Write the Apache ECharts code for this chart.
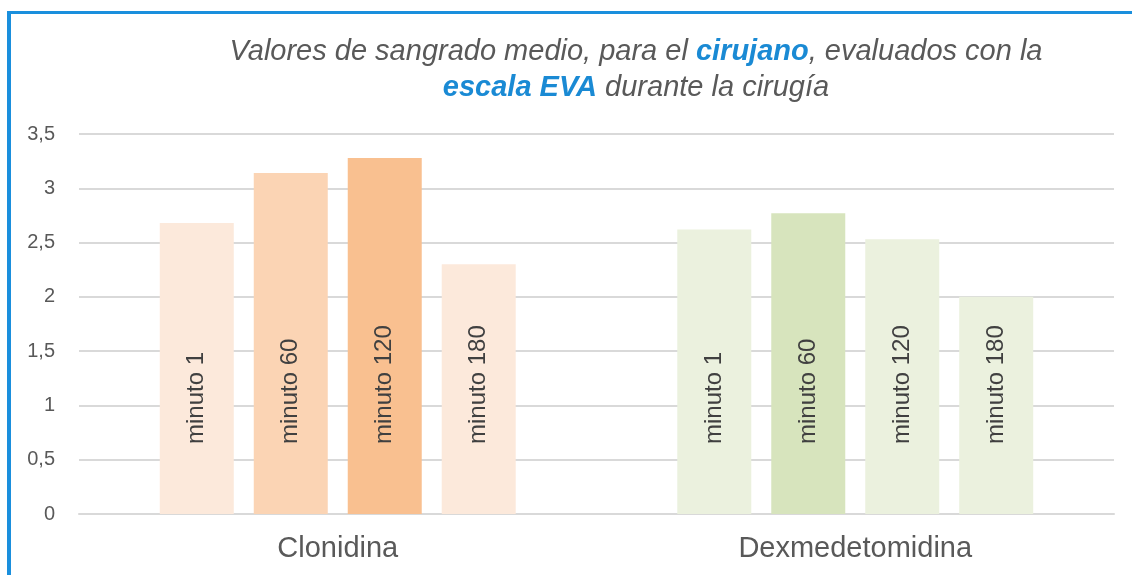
<!DOCTYPE html>
<html>
<head>
<meta charset="utf-8">
<script src="https://cdn.jsdelivr.net/npm/echarts@6/dist/echarts.min.js"></script>
<style>
  html, body { margin: 0; padding: 0; background: #fff; }
  #chart { width: 1132px; height: 575px; }
</style>
</head>
<body>
<div id="chart"></div>
<script>
// data
const categories = ['Clonidina', 'Dexmedetomidina'];
const seriesNames = ['minuto 1', 'minuto 60', 'minuto 120', 'minuto 180'];
const minuto1 = [2.68, 2.62];
const minuto60 = [3.14, 2.77];
const minuto120 = [3.28, 2.53];
const minuto180 = [2.30, 2.00];
const yTicks = [0, 0.5, 1, 1.5, 2, 2.5, 3, 3.5];

// colours per series, one per category
const barColors = [
    ['#fce9db', '#ebf1de'],
    ['#fbd4b4', '#d7e4bd'],
    ['#f9c090', '#ebf1de'],
    ['#fce9db', '#ebf1de']
];
const font = '"Liberation Sans", Arial, sans-serif';

let myChart = echarts.init(document.getElementById('chart'));

let values = [minuto1, minuto60, minuto120, minuto180];
let series = seriesNames.map((name, i) => ({
    type: 'bar',
    name: name,
    barWidth: 74,
    barGap: '27%',
    data: values[i].map((v, j) => ({ value: v, itemStyle: { color: barColors[i][j] } })),
    label: {
        show: true,
        formatter: '{a}',
        position: 'insideBottom',
        distance: 70,
        rotate: 90,
        align: 'left',
        verticalAlign: 'middle',
        fontFamily: font,
        fontSize: 24,
        color: '#404040'
    }
}));

let option = {
    animation: false,
    title: {
        left: 631,
        top: 29,
        textAlign: 'center',
        text: 'Valores de sangrado medio, para el {b|cirujano}, evaluados con la\n{b|escala EVA} durante la cirugía',
        textStyle: {
            fontFamily: font,
            fontSize: 29,
            fontStyle: 'italic',
            fontWeight: 'normal',
            color: '#595959',
            lineHeight: 36,
            rich: {
                b: {
                    fontFamily: font,
                    fontSize: 29,
                    fontStyle: 'italic',
                    fontWeight: 'bold',
                    color: '#1a8ad4',
                    lineHeight: 36
                }
            }
        }
    },
    grid: { left: 79, right: 18, top: 134, bottom: 61, containLabel: false },
    xAxis: {
        type: 'category',
        data: categories,
        axisTick: { show: false },
        axisLine: { lineStyle: { color: '#d9d9d9', width: 2 } },
        axisLabel: { fontFamily: font, fontSize: 29, color: '#595959', margin: 20 }
    },
    yAxis: {
        type: 'value',
        min: yTicks[0],
        max: yTicks[yTicks.length - 1],
        interval: 0.5,
        axisLine: { show: false },
        axisTick: { show: false },
        splitLine: { lineStyle: { color: '#d9d9d9', width: 2 } },
        axisLabel: {
            fontFamily: font,
            fontSize: 20,
            color: '#595959',
            margin: 24,
            formatter: (v) => String(v).replace('.', ',')
        }
    },
    graphic: [
        { type: 'rect', shape: { x: 7, y: 11, width: 1125, height: 3 }, style: { fill: '#1a8fdd' } },
        { type: 'rect', shape: { x: 7, y: 11, width: 4, height: 564 }, style: { fill: '#1a8fdd' } }
    ],
    series: series
};
myChart.setOption(option);
</script>
</body>
</html>
